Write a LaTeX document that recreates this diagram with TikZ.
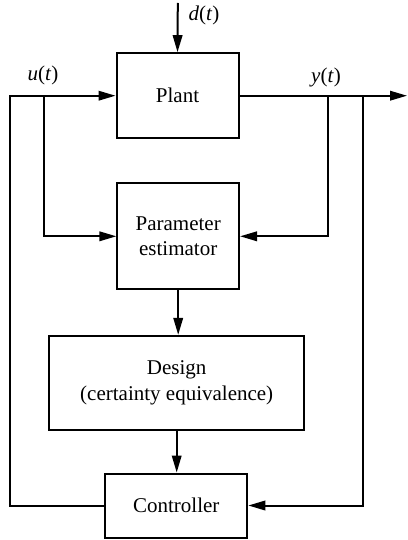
\documentclass[tikz,border=0pt]{standalone}
\usepackage{fontspec}
\setmainfont{Liberation Serif}
\newfontfamily\tnr{Liberation Serif}
\usetikzlibrary{arrows.meta}
\begin{document}
\begin{tikzpicture}[x=1pt,y=-1pt,
  blk/.style={draw,line width=2pt,inner sep=0pt,align=center,
    font=\tnr\fontsize{21}{25.5}\selectfont},
  conn/.style={line width=2pt},
  arr/.style={conn,-{Triangle[length=17pt,width=9.5pt]}},
  lbl/.style={font=\tnr\fontsize{21}{25}\selectfont,inner sep=0pt}]
\useasboundingbox (0,0) rectangle (407,540);
\node[blk,minimum width=122pt,minimum height=85pt] (plant) at (177.5,95.7) {Plant};
\node[blk,minimum width=121.7pt,minimum height=106pt] (est) at (178.2,236.3) {Parameter\\estimator};
\node[blk,minimum width=254.7pt,minimum height=94.3pt] (des) at (176.7,383) {Design\\(certainty equivalence)};
\node[blk,minimum width=142pt,minimum height=64pt] (ctrl) at (176.3,505.5) {Controller};
\coordinate (dtop) at (177.8,3);
\coordinate (out) at (407,95.7);
\coordinate (lc) at (10,505.5);
\coordinate (ul) at (10,95.7);
\coordinate (uj) at (44.3,95.7);
\coordinate (yj1) at (327.7,95.7);
\coordinate (yj2) at (362.7,95.7);
\draw[arr] (dtop) -- (plant.north);
\draw[arr] (plant.east) -- (out);
\draw[arr] (ctrl.west) -- (lc) -- (ul) -- (plant.west);
\draw[arr] (uj) |- (est.west);
\draw[arr] (yj1) |- (est.east);
\draw[arr] (yj2) |- (ctrl.east);
\draw[arr] (est.south) -- (est.south |- des.north);
\draw[arr] (des.south) -- (des.south |- ctrl.north);
\node[lbl] (dl) at (204,15) {\textit{d}(\textit{t})};
\node[lbl] (ul2) at (43,75) {\textit{u}(\textit{t})};
\node[lbl] (yl) at (326,77) {\textit{y}(\textit{t})};
\end{tikzpicture}
\end{document}
